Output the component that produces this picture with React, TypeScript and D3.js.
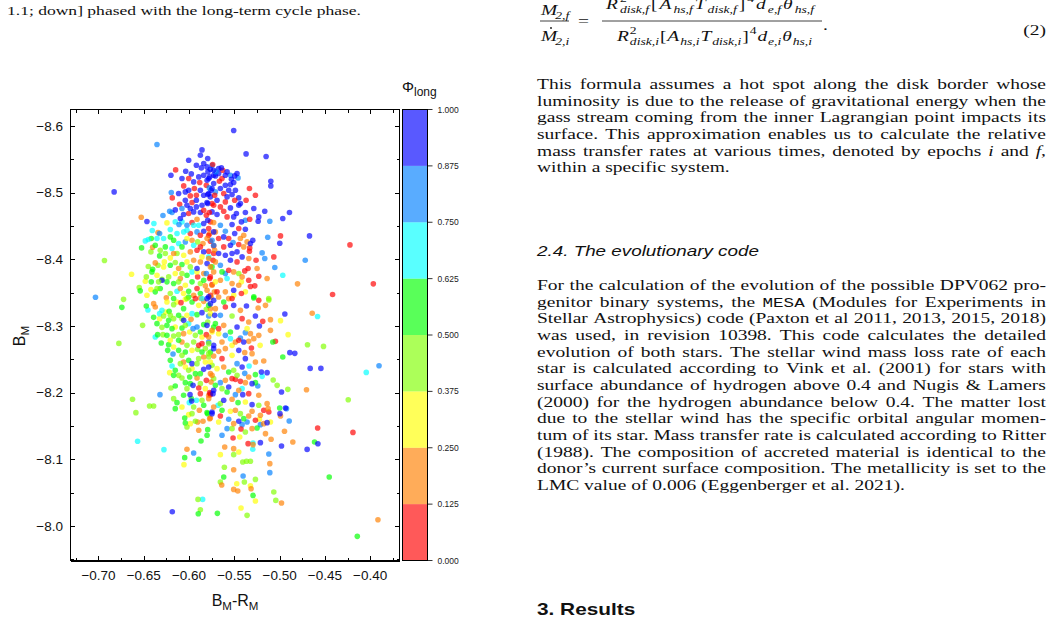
import React, { useMemo } from 'react';
import * as d3 from 'd3';

// ---------------- DATA (B_M-R_M, B_M) grouped by long-cycle phase bin ----------------
const redPts: [number, number][] = [
  [-0.6148,-8.534],[-0.6059,-8.51],[-0.5941,-8.506],[-0.5809,-8.511],[-0.6185,-8.492],[-0.5986,-8.495],[-0.5919,-8.496],[-0.6104,-8.4825],[-0.5967,-8.485],[-0.5746,-8.4835],[-0.6004,-8.4685],[-0.5809,-8.466],[-0.5967,-8.455],[-0.5764,-8.456],[-0.5986,-8.4385],[-0.5764,-8.427],[-0.5728,-8.42],[-0.5912,-8.4135],[-0.5783,-8.412],[-0.5728,-8.4085],[-0.5735,-8.3985],[-0.5905,-8.3735],[-0.5772,-8.371],[-0.5746,-8.362],[-0.5764,-8.346],
  [-0.5739,-8.542],[-0.5628,-8.5335],[-0.5636,-8.521],[-0.5333,-8.506],[-0.5267,-8.496],[-0.5617,-8.4985],[-0.537,-8.4885],[-0.5654,-8.4785],[-0.5728,-8.481],[-0.5599,-8.486],[-0.533,-8.46],[-0.499,-8.435],[-0.533,-8.417],[-0.5333,-8.412],[-0.5451,-8.422],[-0.5562,-8.431],[-0.5673,-8.431],[-0.5783,-8.446],[-0.5064,-8.4035],[-0.526,-8.3985],[-0.5348,-8.386],[-0.5385,-8.3825],[-0.5562,-8.3835],[-0.523,-8.3745],[-0.5274,-8.36],[-0.5322,-8.359],[-0.5422,-8.3485],[-0.5691,-8.351],
  [-0.6089,-8.3348],[-0.593,-8.3408],[-0.5809,-8.2868],[-0.5857,-8.2733],[-0.5809,-8.2183],[-0.5893,-8.2068],[-0.5875,-8.1983],[-0.5772,-8.1998],
  [-0.523,-8.3383],[-0.5186,-8.3068],[-0.5046,-8.2768],[-0.5311,-8.2668],[-0.5433,-8.2168],[-0.5488,-8.2198],[-0.5525,-8.2208],[-0.5765,-8.1968],[-0.5175,-8.1733],[-0.5119,-8.1708],[-0.5654,-8.1648],[-0.5514,-8.1318],[-0.5348,-8.1233],
  [-0.458,-8.1467],[-0.419,-8.1402],[-0.5426,-8.1452],[-0.4223,-8.4215],[-0.3965,-8.363],[-0.4415,-8.347],
  [-0.5665,-8.517],[-0.5717,-8.496],[-0.5496,-8.4885],[-0.5617,-8.472],[-0.5776,-8.47],[-0.558,-8.4635],[-0.5451,-8.446],[-0.5783,-8.436],[-0.5617,-8.4185],[-0.547,-8.396],[-0.5341,-8.3685],[-0.5765,-8.3735],[-0.5525,-8.341],
  [-0.6004,-8.521],[-0.5882,-8.515],[-0.5838,-8.4735],[-0.5875,-8.436],[-0.5875,-8.4185],[-0.5912,-8.356],[-0.5893,-8.2708],
  [-0.5599,-8.3283],[-0.5414,-8.3108],[-0.5673,-8.2958],[-0.5451,-8.2783],[-0.5636,-8.2508],[-0.5341,-8.1983],[-0.5267,-8.1583],
];
const orangePts: [number, number][] = [
  [-0.6528,-8.463],[-0.6343,-8.44],[-0.5772,-8.4385],[-0.6402,-8.418],[-0.5967,-8.4285],[-0.5846,-8.4235],[-0.5986,-8.411],[-0.6373,-8.3945],[-0.5949,-8.3985],[-0.5875,-8.396],[-0.6096,-8.371],[-0.5838,-8.3785],[-0.5728,-8.381],[-0.582,-8.36],[-0.6251,-8.342],[-0.5949,-8.346],[-0.5801,-8.3535],[-0.572,-8.351],
  [-0.5359,-8.426],[-0.5433,-8.431],[-0.5709,-8.441],[-0.5717,-8.4135],[-0.534,-8.401],[-0.5249,-8.386],[-0.5507,-8.381],[-0.5138,-8.371],[-0.5451,-8.361],[-0.5525,-8.3635],[-0.5654,-8.3685],[-0.4802,-8.363],[-0.5746,-8.361],
  [-0.6391,-8.3333],[-0.6373,-8.3283],[-0.5875,-8.3418],[-0.5838,-8.3368],[-0.5757,-8.3433],[-0.5764,-8.3258],[-0.606,-8.2883],[-0.6078,-8.2758],[-0.606,-8.2458],[-0.5838,-8.2533],[-0.5728,-8.2548],[-0.5912,-8.2218],[-0.5757,-8.2158],[-0.5783,-8.1958],[-0.5886,-8.1733],[-0.5905,-8.1558],[-0.5846,-8.1568],[-0.5772,-8.1608],[-0.6023,-8.1148],
  [-0.5673,-8.3433],[-0.5562,-8.3408],[-0.5237,-8.3268],[-0.5156,-8.3308],[-0.5101,-8.3093],[-0.5101,-8.2933],[-0.5175,-8.2473],[-0.5322,-8.2883],[-0.5341,-8.2768],[-0.5285,-8.2808],[-0.5488,-8.2758],[-0.5746,-8.2933],[-0.5599,-8.2658],[-0.5673,-8.2618],[-0.5385,-8.2598],[-0.5304,-8.2583],[-0.5617,-8.2383],[-0.5341,-8.2233],[-0.5378,-8.2148],[-0.5599,-8.2183],[-0.5451,-8.2033],[-0.5783,-8.1908],[-0.5525,-8.1898],[-0.5138,-8.1833],[-0.5127,-8.1758],[-0.499,-8.1648],[-0.5304,-8.1718],[-0.5341,-8.1648],[-0.5212,-8.1658],[-0.5765,-8.1618],[-0.5304,-8.1458],[-0.5175,-8.1533],[-0.4946,-8.1418],[-0.4854,-8.1258],[-0.5094,-8.1298],[-0.5293,-8.1218],[-0.5606,-8.1183],[-0.5507,-8.1158],[-0.5108,-8.0933],
  [-0.4703,-8.2042],[-0.3914,-8.0092],[-0.5639,-8.0612],[-0.5507,-8.0547],[-0.5462,-8.0522],[-0.5315,-8.0557],[-0.4979,-8.0342],[-0.5507,-8.0842],[-0.464,-8.319],
  [-0.5728,-8.455],[-0.5396,-8.436],[-0.5396,-8.4185],[-0.5709,-8.396],[-0.5414,-8.3735],[-0.5599,-8.351],
  [-0.5912,-8.46],[-0.5801,-8.431],[-0.617,-8.4085],[-0.5783,-8.401],[-0.6115,-8.386],[-0.5764,-8.3885],[-0.6096,-8.356],
  [-0.5978,-8.3098],[-0.5783,-8.2833],[-0.5764,-8.2283],[-0.5893,-8.1433],
  [-0.5709,-8.3258],[-0.5433,-8.3233],[-0.5341,-8.3058],[-0.5617,-8.3008],[-0.5636,-8.2758],[-0.523,-8.2858],[-0.5267,-8.2458],[-0.5746,-8.2258],[-0.523,-8.1958],[-0.5488,-8.1733],[-0.5728,-8.1783],[-0.5507,-8.1533],[-0.5156,-8.1383],
];
const yellowPts: [number, number][] = [
  [-0.6244,-8.4545],[-0.6207,-8.402],[-0.6059,-8.406],[-0.6273,-8.396],[-0.6023,-8.396],[-0.6635,-8.3775],[-0.6354,-8.376],[-0.6152,-8.3785],[-0.6483,-8.367],[-0.6041,-8.361],[-0.6421,-8.3545],[-0.606,-8.3485],[-0.5422,-8.366],
  [-0.6262,-8.3208],[-0.6133,-8.3358],[-0.6041,-8.3398],[-0.6325,-8.3108],[-0.6023,-8.3158],[-0.6152,-8.2983],[-0.5993,-8.2908],[-0.5857,-8.2833],[-0.5746,-8.2908],[-0.617,-8.2683],[-0.5967,-8.2633],[-0.6214,-8.2298],[-0.6041,-8.2383],[-0.5967,-8.2358],[-0.582,-8.2058],[-0.6004,-8.1668],[-0.5986,-8.1533],[-0.6056,-8.0918],
  [-0.5507,-8.3458],[-0.499,-8.3078],[-0.4906,-8.2868],[-0.5215,-8.2708],[-0.5673,-8.2883],[-0.5525,-8.2708],[-0.5691,-8.2358],[-0.5543,-8.1718],[-0.5101,-8.1558],[-0.5223,-8.1598],[-0.544,-8.1333],[-0.5451,-8.1108],[-0.5654,-8.1068],
  [-0.5473,-8.0632],[-0.5322,-8.0602],[-0.5267,-8.0372],[-0.5426,-8.0267],
  [-0.5709,-8.366],[-0.5378,-8.351],[-0.6023,-8.431],[-0.5857,-8.4035],[-0.6281,-8.3885],[-0.5912,-8.381],[-0.6465,-8.346],
  [-0.6244,-8.3358],[-0.5893,-8.3308],[-0.6207,-8.2783],[-0.582,-8.2458],[-0.6078,-8.1783],
  [-0.5765,-8.3183],[-0.5359,-8.2958],[-0.5525,-8.2558],[-0.5765,-8.2458],[-0.5378,-8.1858],[-0.5673,-8.1558],
];
const limePts: [number, number][] = [
  [-0.5905,-8.426],[-0.6421,-8.411],[-0.6318,-8.4135],[-0.6262,-8.4085],[-0.6133,-8.4085],[-0.645,-8.389],[-0.6343,-8.391],[-0.6152,-8.395],[-0.6472,-8.3735],[-0.6299,-8.37],[-0.6225,-8.3735],[-0.6115,-8.366],[-0.5875,-8.3635],[-0.655,-8.3575],[-0.6207,-8.3485],[-0.5451,-8.3785],[-0.512,-8.341],
  [-0.6723,-8.3398],[-0.617,-8.3318],[-0.628,-8.3148],[-0.617,-8.3108],[-0.6078,-8.3108],[-0.5809,-8.3248],[-0.6513,-8.3008],[-0.6299,-8.2978],[-0.5794,-8.3058],[-0.6288,-8.2868],[-0.617,-8.2848],[-0.6115,-8.2868],[-0.593,-8.2858],[-0.6023,-8.2708],[-0.5905,-8.2648],[-0.582,-8.2658],[-0.5894,-8.2508],[-0.5783,-8.2533],[-0.6115,-8.2258],[-0.6004,-8.2333],[-0.5746,-8.2408],[-0.6078,-8.2218],[-0.5875,-8.2133],[-0.5728,-8.2208],[-0.62,-8.2068],[-0.6624,-8.1898],[-0.617,-8.1908],[-0.5857,-8.1883],[-0.6436,-8.1798],[-0.6391,-8.1798],[-0.6587,-8.1698],[-0.5967,-8.1683],[-0.593,-8.1568],
  [-0.5119,-8.3388],[-0.5783,-8.2583],[-0.5507,-8.2333],[-0.5071,-8.2188],[-0.5027,-8.2108],[-0.4909,-8.2048],[-0.5654,-8.1833],[-0.5433,-8.1683],[-0.5525,-8.1458],[-0.5407,-8.0958],[-0.5366,-8.0968],[-0.5322,-8.0968],[-0.5507,-8.1068],
  [-0.5901,-8.0397],[-0.5875,-8.0242],[-0.5654,-8.0657],[-0.5389,-8.0657],[-0.5359,-8.0157],[-0.5064,-8.0507],[-0.5042,-8.0382],[-0.4242,-8.1892],[-0.4692,-8.2717],[-0.4515,-8.2692],[-0.6775,-8.2737],[-0.5267,-8.0697],[-0.561,-8.088],[-0.6934,-8.398],
  [-0.5986,-8.3885],[-0.6336,-8.366],[-0.6078,-8.3785],[-0.6354,-8.356],[-0.6023,-8.341],
  [-0.6207,-8.3158],[-0.6041,-8.3008],[-0.5949,-8.2758],[-0.6078,-8.2558],[-0.6096,-8.2433],[-0.5912,-8.2433],[-0.6023,-8.2058],[-0.5949,-8.1783],[-0.6023,-8.1483],
  [-0.5525,-8.3148],[-0.5783,-8.2733],[-0.547,-8.2258],[-0.5636,-8.2058],[-0.523,-8.1808],[-0.5378,-8.1408],
];
const greenPts: [number, number][] = [
  [-0.6417,-8.431],[-0.6207,-8.4335],[-0.6524,-8.417],[-0.6262,-8.4185],[-0.6325,-8.405],[-0.6402,-8.385],[-0.6207,-8.391],[-0.6078,-8.392],[-0.641,-8.381],[-0.6023,-8.376],[-0.6417,-8.366],[-0.6244,-8.366],[-0.617,-8.3635],[-0.5967,-8.366],[-0.6539,-8.3525],[-0.6373,-8.351],[-0.6318,-8.356],[-0.6004,-8.352],[-0.5875,-8.3485],
  [-0.5746,-8.3885],[-0.5285,-8.3435],
  [-0.6742,-8.3278],[-0.6472,-8.3298],[-0.622,-8.3218],[-0.6004,-8.3433],[-0.5967,-8.3358],[-0.6391,-8.3128],[-0.6225,-8.3083],[-0.6115,-8.3158],[-0.5912,-8.3168],[-0.6244,-8.3008],[-0.6188,-8.2958],[-0.6078,-8.2968],[-0.5838,-8.3018],[-0.5728,-8.2983],[-0.6347,-8.2868],[-0.6244,-8.2858],[-0.6307,-8.2743],[-0.6225,-8.2718],[-0.6236,-8.2633],[-0.6115,-8.2633],[-0.6041,-8.2608],[-0.5764,-8.2608],[-0.6004,-8.2483],[-0.6152,-8.2333],[-0.617,-8.2258],[-0.593,-8.2283],[-0.5875,-8.2283],[-0.5993,-8.2233],[-0.6041,-8.2148],[-0.5986,-8.2133],[-0.6152,-8.2098],[-0.6133,-8.1848],[-0.6152,-8.1758],[-0.5975,-8.1908],[-0.5794,-8.1683],[-0.6048,-8.1618],[-0.6041,-8.1543],[-0.5794,-8.1443],[-0.5801,-8.1358],[-0.5868,-8.1273],[-0.6048,-8.1023],[-0.5893,-8.0998],
  [-0.5617,-8.3358],[-0.5285,-8.3418],[-0.5075,-8.2758],[-0.4965,-8.2533],[-0.5562,-8.2308],[-0.5267,-8.2268],[-0.5267,-8.2148],[-0.5709,-8.2108],[-0.558,-8.2008],[-0.5459,-8.1848],[-0.4999,-8.1768],[-0.5802,-8.1698],[-0.5636,-8.1733],[-0.5249,-8.1468],
  [-0.5898,-8.0182],[-0.5687,-8.0187],[-0.5293,-8.0457],[-0.4452,-8.0732],[-0.4142,-7.9842],[-0.4614,-8.1257],[-0.5617,-8.0732],
  [-0.5636,-8.381],[-0.617,-8.4285],[-0.6373,-8.421],[-0.6078,-8.4185],[-0.5838,-8.3685],[-0.617,-8.341],
  [-0.606,-8.3258],[-0.6354,-8.3033],[-0.5875,-8.2908],[-0.6115,-8.2783],[-0.5857,-8.2608],[-0.6207,-8.2483],[-0.606,-8.1958],[-0.5838,-8.1808],
  [-0.5783,-8.3308],[-0.5709,-8.3033],[-0.5543,-8.2908],[-0.5396,-8.1608],
];
const cyanPts: [number, number][] = [
  [-0.6388,-8.4535],[-0.6406,-8.443],[-0.6207,-8.4445],[-0.6152,-8.456],[-0.6078,-8.456],[-0.5893,-8.451],[-0.6483,-8.4275],[-0.645,-8.4295],[-0.6281,-8.431],[-0.6133,-8.4385],[-0.6059,-8.441],[-0.6188,-8.416],[-0.6115,-8.4235],[-0.5967,-8.381],[-0.6133,-8.352],
  [-0.558,-8.371],[-0.4965,-8.376],
  [-0.6454,-8.3238],[-0.6325,-8.3183],[-0.6299,-8.3233],[-0.5967,-8.3183],[-0.6004,-8.3033],[-0.6373,-8.2833],[-0.6188,-8.2398],[-0.5919,-8.1883],[-0.5997,-8.1848],[-0.6568,-8.1268],[-0.6277,-8.1143],
  [-0.5543,-8.2808],[-0.5337,-8.2398],[-0.5193,-8.2243],[-0.5414,-8.2058],[-0.568,-8.1808],[-0.5296,-8.1148],
  [-0.585,-8.0397],[-0.4043,-8.2302],[-0.5293,-8.1242],[-0.4581,-8.314],
  [-0.5783,-8.4035],[-0.6023,-8.4435],[-0.5949,-8.451],[-0.6354,-8.431],[-0.5949,-8.421],[-0.5857,-8.341],
];
const skyPts: [number, number][] = [
  [-0.6354,-8.572],[-0.5746,-8.541],[-0.6196,-8.5],[-0.6214,-8.472],[-0.6188,-8.47],[-0.6288,-8.4655],[-0.6111,-8.452],[-0.6023,-8.451],[-0.6325,-8.4385],[-0.5912,-8.441],[-0.6041,-8.426],
  [-0.5543,-8.526],[-0.5459,-8.522],[-0.5709,-8.501],[-0.5378,-8.4585],[-0.5108,-8.457],[-0.5131,-8.433],[-0.5514,-8.425],[-0.5746,-8.4285],[-0.5193,-8.4095],[-0.5164,-8.401],[-0.5053,-8.3875],[-0.5599,-8.3785],[-0.5654,-8.391],
  [-0.5956,-8.2958],[-0.5912,-8.2983],[-0.5783,-8.2758],[-0.6177,-8.2578],[-0.6321,-8.1968],[-0.5764,-8.1983],[-0.5949,-8.1093],
  [-0.5378,-8.2898],[-0.5433,-8.2818],[-0.5599,-8.2858],[-0.5385,-8.2288],[-0.547,-8.2433],[-0.5241,-8.2098],[-0.5654,-8.2148],[-0.5488,-8.1968],[-0.4924,-8.1758],[-0.5562,-8.1598],[-0.5414,-8.1518],[-0.558,-8.1458],[-0.5212,-8.1518],[-0.5359,-8.1558],[-0.5119,-8.1078],[-0.5108,-8.0798],
  [-0.5403,-8.0747],[-0.4894,-8.1572],[-0.3902,-8.2402],[-0.7033,-8.343],[-0.4717,-8.3985],
  [-0.5702,-8.531],[-0.5776,-8.507],[-0.5654,-8.451],[-0.5599,-8.442],[-0.5728,-8.421],[-0.6078,-8.476],[-0.5809,-8.3785],[-0.5783,-8.3148],[-0.5654,-8.3158],[-0.5636,-8.1358],
];
const bluePts: [number, number][] = [
  [-0.5857,-8.564],[-0.5875,-8.556],[-0.6004,-8.5485],[-0.5838,-8.5435],[-0.6037,-8.532],[-0.5975,-8.528],[-0.5864,-8.537],[-0.62,-8.526],[-0.5949,-8.516],[-0.5893,-8.5235],[-0.5838,-8.526],[-0.5772,-8.5235],[-0.5728,-8.526],[-0.6004,-8.5035],[-0.5875,-8.5035],[-0.5757,-8.5035],[-0.6041,-8.501],[-0.5838,-8.496],[-0.5794,-8.497],[-0.6041,-8.4885],[-0.6023,-8.481],[-0.5919,-8.4785],[-0.5857,-8.481],[-0.5794,-8.4835],[-0.6152,-8.474],[-0.606,-8.467],[-0.5949,-8.471],[-0.5875,-8.47],[-0.5746,-8.471],[-0.6465,-8.4565],[-0.5838,-8.4535],[-0.5838,-8.442],[-0.5838,-8.411],[-0.5801,-8.3935],[-0.6299,-8.3685],
  [-0.5507,-8.593],[-0.537,-8.558],[-0.5149,-8.554],[-0.5673,-8.536],[-0.5599,-8.526],[-0.5496,-8.525],[-0.5791,-8.531],[-0.5709,-8.525],[-0.5673,-8.5285],[-0.5783,-8.521],[-0.5097,-8.517],[-0.5097,-8.51],[-0.5599,-8.511],[-0.5543,-8.512],[-0.5507,-8.515],[-0.5562,-8.5035],[-0.5525,-8.497],[-0.5451,-8.492],[-0.5433,-8.4835],[-0.5746,-8.506],[-0.5765,-8.4935],[-0.5691,-8.4885],[-0.5285,-8.476],[-0.5164,-8.472],[-0.5451,-8.481],[-0.5378,-8.47],[-0.5477,-8.4685],[-0.5507,-8.4635],[-0.523,-8.4635],[-0.5237,-8.457],[-0.4891,-8.47],[-0.4965,-8.461],[-0.4998,-8.424],[-0.5296,-8.4285],[-0.5322,-8.4235],[-0.5617,-8.4335],[-0.5414,-8.4035],[-0.547,-8.411],[-0.5525,-8.4085],[-0.5599,-8.406],[-0.5673,-8.4085],
  [-0.5801,-8.3408],[-0.5728,-8.3383],[-0.6059,-8.3083],[-0.5857,-8.3198],[-0.5717,-8.3158],[-0.5728,-8.2708],[-0.5967,-8.2433],[-0.5838,-8.2348],[-0.5783,-8.2383],[-0.5956,-8.2108],[-0.5989,-8.1968],[-0.5735,-8.1983],[-0.5746,-8.1708],
  [-0.5366,-8.3298],[-0.4942,-8.3178],[-0.5267,-8.3148],[-0.5223,-8.2998],[-0.4887,-8.2598],[-0.4832,-8.2588],[-0.5396,-8.2758],[-0.5728,-8.2658],[-0.5451,-8.2633],[-0.5414,-8.2383],[-0.5138,-8.2298],[-0.5201,-8.2308],[-0.4979,-8.2008],[-0.5407,-8.1968],[-0.5562,-8.2083],[-0.5728,-8.2033],[-0.5304,-8.1818],[-0.4935,-8.1768],[-0.4996,-8.1683],[-0.5746,-8.1683],[-0.5451,-8.1568],[-0.5138,-8.1548],[-0.5212,-8.1248],[-0.4979,-8.1198],
  [-0.6185,-8.0212],[-0.4696,-8.1147],[-0.4577,-8.1232],[-0.4544,-8.2362],[-0.4662,-8.2362],[-0.5971,-8.1872],[-0.6827,-8.501],[-0.467,-8.435],
  [-0.5802,-8.5385],[-0.5765,-8.535],[-0.5643,-8.537],[-0.558,-8.531],[-0.5532,-8.52],[-0.547,-8.5285],[-0.5728,-8.5135],[-0.5654,-8.506],[-0.5488,-8.5035],[-0.5783,-8.4985],[-0.558,-8.4935],[-0.5802,-8.485],[-0.5543,-8.477],[-0.5691,-8.467],[-0.5422,-8.456],[-0.5525,-8.452],[-0.5378,-8.445],[-0.5496,-8.4385],[-0.5543,-8.421],[-0.5543,-8.3985],[-0.5507,-8.3535],[-0.5783,-8.3435],
  [-0.5919,-8.541],[-0.5794,-8.551],[-0.5728,-8.5335],[-0.6078,-8.521],[-0.5801,-8.5185],[-0.6115,-8.4985],[-0.5919,-8.4885],[-0.5986,-8.476],[-0.6096,-8.461],[-0.5794,-8.4585],[-0.5728,-8.441],[-0.5912,-8.386],
  [-0.5764,-8.3333],[-0.5507,-8.3308],[-0.547,-8.2983],[-0.5802,-8.3008],[-0.5378,-8.2508],[-0.5304,-8.2133],[-0.5617,-8.1883],
];

const PHASE_BREAKS = [0.125, 0.25, 0.375, 0.5, 0.625, 0.75, 0.875];
const PHASE_COLORS = ['#ff0000', '#ff8000', '#ffff00', '#80ff00', '#00ff00', '#00ffff', '#0080ff', '#0000ff'];
const GROUP_PHASES = [0.0625, 0.1875, 0.3125, 0.4375, 0.5625, 0.6875, 0.8125, 0.9375];
const GROUP_POINTS = [redPts, orangePts, yellowPts, limePts, greenPts, cyanPts, skyPts, bluePts];
const X_TICKS = [-0.7, -0.65, -0.6, -0.55, -0.5, -0.45, -0.4];
const X_MINOR = [-0.725, -0.675, -0.625, -0.575, -0.525, -0.475, -0.425, -0.375];
const Y_TICKS = [-8.6, -8.5, -8.4, -8.3, -8.2, -8.1, -8.0];
const Y_MINOR = [-8.55, -8.45, -8.35, -8.25, -8.15, -8.05, -7.95];
const CB_TICKS = [0, 0.125, 0.25, 0.375, 0.5, 0.625, 0.75, 0.875, 1];

// ---------------- TEXT ----------------
const CAPTION = '1.1; down] phased with the long-term cycle phase.';
const PARA1 = [
  'This formula assumes a hot spot along the disk border whose',
  'luminosity is due to the release of gravitational energy when the',
  'gass stream coming from the inner Lagrangian point impacts its',
  'surface. This approximation enables us to calculate the relative',
  'mass transfer rates at various times, denoted by epochs *i* and *f*,',
  'within a specific system.',
];
const HEADING = '2.4. The evolutionary code';
const PARA2 = [
  'For the calculation of the evolution of the possible DPV062 pro-',
  'genitor binary systems, the `MESA` (Modules for Experiments in',
  'Stellar Astrophysics) code (Paxton et al 2011, 2013, 2015, 2018)',
  'was used, in revision 10398. This code calculates the detailed',
  'evolution of both stars. The stellar wind mass loss rate of each',
  'star is calculated according to Vink et al. (2001) for stars with',
  'surface abundance of hydrogen above 0.4 and Nugis & Lamers',
  '(2000) for the hydrogen abundance below 0.4. The matter lost',
  'due to the stellar wind has the specific orbital angular momen-',
  'tum of its star. Mass transfer rate is calculated according to Ritter',
  '(1988). The composition of accreted material is identical to the',
  'donor\u2019s current surface composition. The metallicity is set to the',
  'LMC value of 0.006 (Eggenberger et al. 2021).',
];
const SECTION = '3. Results';

const SERIF = "'Liberation Serif', 'Times New Roman', serif";
const SANS = "'Liberation Sans', Arial, Helvetica, sans-serif";
const MONO = "'Liberation Mono', 'DejaVu Sans Mono', monospace";
const BODY = 15;
const SX = 1.3; // horizontal stretch of the page text

let _ctx: CanvasRenderingContext2D | null = null;
function measure(t: string, font: string) {
  if (!_ctx) _ctx = document.createElement('canvas').getContext('2d');
  _ctx!.font = font;
  return _ctx!.measureText(t).width;
}

type Seg = { t: string; kind: 'n' | 'i' | 'm' };
function parseWord(w: string): Seg[] {
  const out: Seg[] = [];
  const re = /(\*[^*]+\*|`[^`]+`)/g;
  let last = 0; let m: RegExpExecArray | null;
  while ((m = re.exec(w))) {
    if (m.index > last) out.push({ t: w.slice(last, m.index), kind: 'n' });
    const s = m[0];
    out.push({ t: s.slice(1, -1), kind: s[0] === '*' ? 'i' : 'm' });
    last = m.index + s.length;
  }
  if (last < w.length) out.push({ t: w.slice(last), kind: 'n' });
  return out;
}
function segFont(k: string) {
  if (k === 'i') return `italic ${BODY}px ${SERIF}`;
  if (k === 'm') return `${BODY - 1.5}px ${MONO}`;
  return `${BODY}px ${SERIF}`;
}

function JustLine({ line, x0, y, width, justify }: { line: string; x0: number; y: number; width: number; justify: boolean }) {
  const lw = width / SX;
  const words = line.split(' ').map(parseWord);
  const widths = words.map(ws => ws.reduce((s, g) => s + measure(g.t, segFont(g.kind)), 0));
  const total = widths.reduce((a, b) => a + b, 0);
  const space = measure(' ', `${BODY}px ${SERIF}`);
  const gap = justify && words.length > 1 ? Math.max(1, (lw - total) / (words.length - 1)) : space;
  const els: JSX.Element[] = [];
  let x = 0;
  words.forEach((ws, wi) => {
    let xx = x;
    ws.forEach((g, gi) => {
      const f = g.kind === 'i' ? { fontStyle: 'italic', fontFamily: SERIF, fontSize: BODY } : g.kind === 'm' ? { fontFamily: MONO, fontSize: BODY - 1.5 } : { fontFamily: SERIF, fontSize: BODY };
      els.push(<text key={wi + '-' + gi} x={xx} y={0} style={f as any} fill="#111">{g.t}</text>);
      xx += measure(g.t, segFont(g.kind));
    });
    x += widths[wi] + gap;
  });
  return <g transform={`translate(${x0},${y}) scale(${SX},1)`}>{els}</g>;
}

type Piece = { t: string; sz: number; it?: boolean; dy?: number; stay?: boolean };
function MathRow({ pieces, x0, y, width }: { pieces: Piece[]; x0: number; y: number; width: number }) {
  const lw = width / SX;
  const ws = pieces.map(p => measure(p.t, `${p.it ? 'italic ' : ''}${p.sz}px ${SERIF}`));
  const adv = pieces.reduce((s, p, i) => s + (p.stay ? 0 : ws[i]), 0);
  const advCount = pieces.filter(p => !p.stay).length;
  const extra = Math.max(0, (lw - adv) / Math.max(1, advCount));
  let x = 0;
  return (
    <g transform={`translate(${x0},${y}) scale(${SX},1)`}>
      {pieces.map((p, i) => {
        const el = <text key={i} x={x} y={p.dy || 0} fontSize={p.sz} fontStyle={p.it ? 'italic' : 'normal'} fontFamily={SERIF} fill="#111">{p.t}</text>;
        if (!p.stay) x += ws[i] + extra;
        return el;
      })}
    </g>
  );
}
function fracPieces(s: string): Piece[] {
  return [
    { t: 'R', sz: 15, it: true }, { t: '2', sz: 10.5, dy: -7, stay: true }, { t: `disk,${s}`, sz: 10.5, it: true, dy: 4 },
    { t: '[', sz: 15 }, { t: 'A', sz: 15, it: true }, { t: `hs,${s}`, sz: 10.5, it: true, dy: 4 },
    { t: 'T', sz: 15, it: true }, { t: `disk,${s}`, sz: 10.5, it: true, dy: 4 }, { t: ']', sz: 15 }, { t: '4', sz: 10.5, dy: -7 },
    { t: 'd', sz: 15, it: true }, { t: `e,${s}`, sz: 10.5, it: true, dy: 4 }, { t: '\u03b8', sz: 15, it: true }, { t: `hs,${s}`, sz: 10.5, it: true, dy: 4 },
  ];
}

// ---------------- CHART ----------------
const PL = 70.5, PR = 399.5, PT = 109.5, PB = 560.5;
const CBL = 402.5, CBR = 427.5;

export default function App() {
  const x = d3.scaleLinear().domain([-0.7309, -0.3676]).range([PL, PR]);
  const y = d3.scaleLinear().domain([-8.6246, -7.948]).range([PT, PB]);
  const color = d3.scaleThreshold<number, string>().domain(PHASE_BREAKS).range(PHASE_COLORS);
  const cb = d3.scaleLinear().domain([0, 1]).range([PB, PT]);
  const fx = d3.format('.2f');
  const fy = d3.format('.1f');
  const fc = d3.format('.3f');

  // interleave the phase groups so that no colour is systematically drawn on top
  const points = useMemo(() => {
    const arr: { x: number; y: number; p: number }[] = [];
    const n = d3.max(GROUP_POINTS, g => g.length) || 0;
    for (let i = 0; i < n; i++) {
      GROUP_POINTS.forEach((g, gi) => {
        if (i < g.length) arr.push({ x: g[i][0], y: g[i][1], p: GROUP_PHASES[gi] });
      });
    }
    return arr;
  }, []);

  const bands = CB_TICKS.slice(0, -1).map((v, i) => ({ lo: v, hi: CB_TICKS[i + 1], c: color((v + CB_TICKS[i + 1]) / 2) }));

  return (
    <svg width={1055} height={628} style={{ position: 'absolute', left: 0, top: 0, background: '#fff' }}>
      <rect x={0} y={0} width={1055} height={628} fill="#fff" />
      {/* left caption fragment */}
      <text transform={`translate(7,15) scale(${SX},1)`} fontFamily={SERIF} fontSize={13.5} fill="#111">{CAPTION}</text>

      {/* scatter points */}
      <g>
        {points.map((d, i) => (
          <circle key={i} cx={x(d.x)} cy={y(d.y)} r={2.8} fill={color(d.p)} fillOpacity={0.68} />
        ))}
      </g>

      {/* frame and ticks */}
      <g stroke="#000" strokeWidth={1} fill="none" shapeRendering="crispEdges">
        <rect x={PL} y={PT} width={PR - PL} height={PB - PT} />
        <line x1={PL} x2={PR} y1={PB + 0.5} y2={PB + 0.5} />
        {X_TICKS.map(v => (
          <g key={'xt' + v}>
            <line x1={Math.round(x(v)) + 0.5} x2={Math.round(x(v)) + 0.5} y1={PB} y2={PB - 4.5} />
            <line x1={Math.round(x(v)) + 0.5} x2={Math.round(x(v)) + 0.5} y1={PT} y2={PT + 4.5} />
          </g>
        ))}
        {X_MINOR.map(v => (
          <g key={'xm' + v}>
            <line x1={Math.round(x(v)) + 0.5} x2={Math.round(x(v)) + 0.5} y1={PB} y2={PB - 3} />
            <line x1={Math.round(x(v)) + 0.5} x2={Math.round(x(v)) + 0.5} y1={PT} y2={PT + 3} />
          </g>
        ))}
        {Y_TICKS.map(v => (
          <g key={'yt' + v}>
            <line x1={PL} x2={PL + 4.5} y1={Math.round(y(v)) + 0.5} y2={Math.round(y(v)) + 0.5} />
            <line x1={PR} x2={PR - 4.5} y1={Math.round(y(v)) + 0.5} y2={Math.round(y(v)) + 0.5} />
          </g>
        ))}
        {Y_MINOR.filter(v => y(v) > PT && y(v) < PB).map(v => (
          <g key={'ym' + v}>
            <line x1={PL} x2={PL + 3} y1={Math.round(y(v)) + 0.5} y2={Math.round(y(v)) + 0.5} />
            <line x1={PR} x2={PR - 3} y1={Math.round(y(v)) + 0.5} y2={Math.round(y(v)) + 0.5} />
          </g>
        ))}
      </g>

      {/* tick labels */}
      <g fontFamily={SANS} fontSize={13.5} fill="#111">
        {X_TICKS.map(v => (
          <text key={'xl' + v} x={x(v)} y={580} textAnchor="middle">{fx(v)}</text>
        ))}
        {Y_TICKS.map(v => (
          <text key={'yl' + v} x={63} y={y(v) + 4.8} textAnchor="end">{fy(v)}</text>
        ))}
      </g>

      {/* axis titles */}
      <text x={235} y={606} textAnchor="middle" fontFamily={SANS} fontSize={16} fill="#111">
        B<tspan fontSize={11.5} dy={4}>M</tspan><tspan dy={-4}>-R</tspan><tspan fontSize={11.5} dy={4}>M</tspan>
      </text>
      <text transform="translate(25,336) rotate(-90)" textAnchor="middle" fontFamily={SANS} fontSize={16} fill="#111">
        B<tspan fontSize={11.5} dy={4}>M</tspan>
      </text>

      {/* colorbar */}
      <g>
        {bands.map((b, i) => (
          <rect key={'cb' + i} x={CBL} y={cb(b.hi)} width={CBR - CBL} height={cb(b.lo) - cb(b.hi)} fill={b.c} fillOpacity={0.65} />
        ))}
        <rect x={CBL} y={PT} width={CBR - CBL} height={PB - PT} fill="none" stroke="#000" strokeWidth={1} />
        {CB_TICKS.map(v => (
          <g key={'cbt' + v}>
            <line x1={CBR} x2={CBR + 5} y1={cb(v)} y2={cb(v)} stroke="#000" strokeWidth={0.8} />
            <text x={CBR + 10} y={cb(v) + 3} fontFamily={SANS} fontSize={8.5} fill="#222">{fc(v)}</text>
          </g>
        ))}
        <text x={402} y={92} fontFamily={SANS} fontSize={15} fill="#111">
          {'\u03a6'}<tspan fontSize={12} dy={4}>long</tspan>
        </text>
      </g>

      {/* right column: equation */}
      <g>
        <g transform={`translate(541,15) scale(${SX},1)`}>
          <text x={0} y={0} fontFamily={SERIF} fontStyle="italic" fontSize={15} fill="#111">M</text>
          <text x={11} y={4} fontFamily={SERIF} fontStyle="italic" fontSize={10.5} fill="#111">2,f</text>
        </g>
        <line x1={540} x2={569} y1={21} y2={21} stroke="#111" strokeWidth={0.8} />
        <circle cx={551} cy={28} r={0.9} fill="#111" />
        <g transform={`translate(541,41) scale(${SX},1)`}>
          <text x={0} y={0} fontFamily={SERIF} fontStyle="italic" fontSize={15} fill="#111">M</text>
          <text x={11} y={4} fontFamily={SERIF} fontStyle="italic" fontSize={10.5} fill="#111">2,i</text>
        </g>
        <text transform={`translate(578,26) scale(${SX},1)`} fontFamily={SERIF} fontSize={15} fill="#111">=</text>
        <MathRow pieces={fracPieces('f')} x0={606} y={9} width={210} />
        <line x1={602} x2={822} y1={21} y2={21} stroke="#111" strokeWidth={0.8} />
        <MathRow pieces={fracPieces('i')} x0={617} y={41} width={196} />
        <text transform={`translate(823,30) scale(${SX},1)`} fontFamily={SERIF} fontSize={15} fill="#111">.</text>
        <text transform={`translate(1046,35) scale(${SX},1)`} textAnchor="end" fontFamily={SERIF} fontSize={BODY} fill="#111">(2)</text>
      </g>

      {/* right column text */}
      <g>
        {PARA1.map((l, i) => (
          <JustLine key={'p1' + i} line={l} x0={537} y={89 + i * 16.65} width={509} justify={i < PARA1.length - 1} />
        ))}
        <text transform={`translate(537,256) scale(${SX},1)`} fontFamily={SANS} fontStyle="italic" fontSize={14.5} fill="#111">{HEADING}</text>
        {PARA2.map((l, i) => (
          <JustLine key={'p2' + i} line={l} x0={537} y={290 + i * 16.65} width={509} justify={i < PARA2.length - 1} />
        ))}
        <text transform={`translate(537,615) scale(${SX},1)`} fontFamily={SANS} fontWeight="bold" fontSize={16} fill="#111">{SECTION}</text>
      </g>
    </svg>
  );
}
